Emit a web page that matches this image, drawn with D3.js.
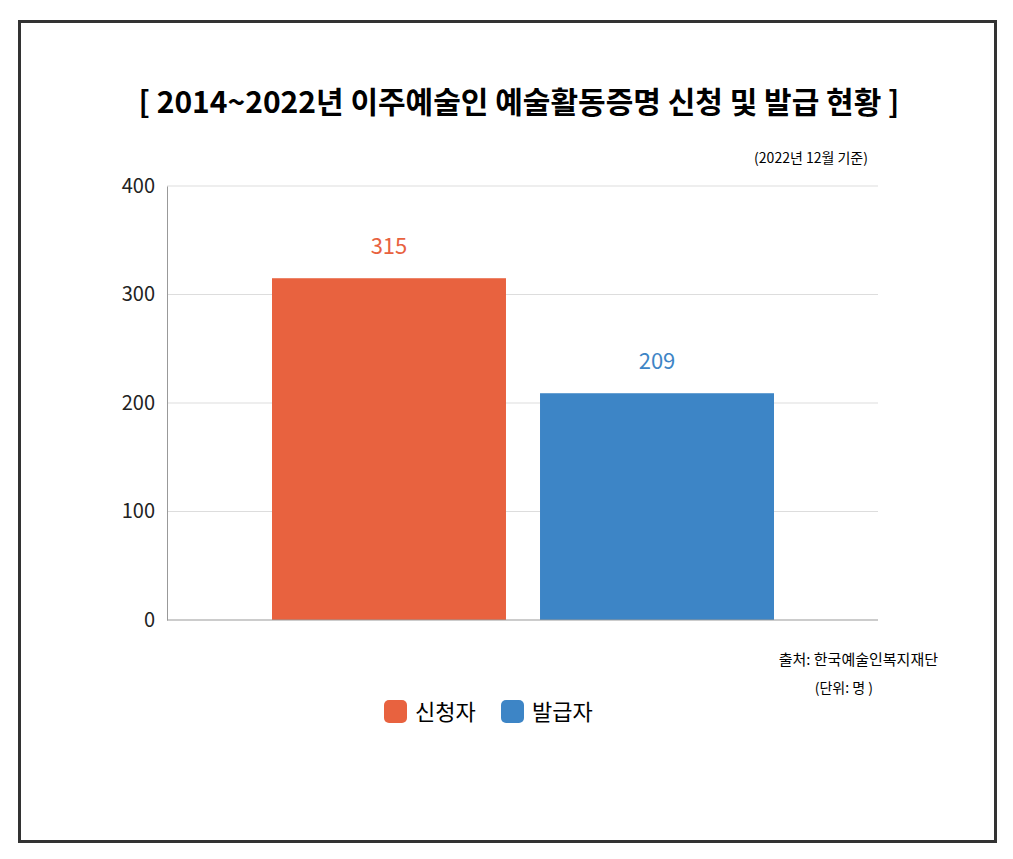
<!DOCTYPE html>
<html><head><meta charset="utf-8">
<script src="https://cdn.jsdelivr.net/npm/d3@7"></script>
<style>body{margin:0;background:#fff}text{font-family:"Noto Sans CJK KR","Noto Sans",sans-serif}</style>
</head><body><svg></svg>
<script>
let categories = ["신청자", "발급자"]
let values = [315, 209]
let colors = ["#E8623F", "#3D85C6"]
let yTicks = [0, 100, 200, 300, 400]

let svg = d3.select("svg").attr("width", 1013).attr("height", 859)

svg.append("rect").attr("x", 19.5).attr("y", 21.5).attr("width", 976).attr("height", 820)
    .attr("fill", "#fff").attr("stroke", "#333").attr("stroke-width", 3)

svg.append("text").attr("x", 519).attr("y", 113).attr("text-anchor", "middle")
    .attr("font-size", 30).attr("font-weight", "bold")
    .text("[  2014~2022년 이주예술인 예술활동증명 신청 및 발급 현황 ]")
svg.append("text").attr("x", 868).attr("y", 163).attr("text-anchor", "end")
    .attr("font-size", 14).text("(2022년 12월 기준)")

let y = d3.scaleLinear().domain([0, 400]).range([620, 186])
let x = d3.scaleBand().domain(categories).range([272, 774]).paddingInner(0.127)

// grid
svg.selectAll(".grid").data(yTicks.slice(1)).enter().append("line")
    .attr("x1", 167).attr("x2", 878).attr("y1", d => y(d)).attr("y2", d => y(d))
    .attr("stroke", "#ddd")

let axis = svg.append("g").attr("transform", "translate(167,0)")
    .call(d3.axisLeft(y).tickValues(yTicks).tickSize(0).tickPadding(12))
axis.select(".domain").attr("stroke", "#999")
axis.selectAll("text").attr("font-size", 20).attr("fill", "#222")
    .style("font-family", "'Noto Sans CJK KR', sans-serif")

svg.selectAll(".bar").data(values).enter().append("rect")
    .attr("x", (d, i) => x(categories[i])).attr("width", x.bandwidth())
    .attr("y", d => y(d)).attr("height", d => y(0) - y(d))
    .attr("fill", (d, i) => colors[i])

svg.selectAll(".val").data(values).enter().append("text")
    .attr("x", (d, i) => x(categories[i]) + x.bandwidth() / 2)
    .attr("y", d => y(d) - 24).attr("text-anchor", "middle")
    .attr("font-size", 22).attr("fill", (d, i) => colors[i]).text(d => d)

svg.append("line").attr("x1", 167).attr("x2", 878).attr("y1", 620).attr("y2", 620).attr("stroke", "#999")

svg.append("text").attr("x", 938).attr("y", 665).attr("text-anchor", "end")
    .attr("font-size", 15).text("출처: 한국예술인복지재단")
svg.append("text").attr("x", 873).attr("y", 693).attr("text-anchor", "end")
    .attr("font-size", 14).text("(단위:  명 )")

let legendX = [384, 501]
categories.forEach((c, i) => {
    svg.append("rect").attr("x", legendX[i]).attr("y", 700).attr("width", 23).attr("height", 23)
        .attr("rx", 5).attr("fill", colors[i])
    svg.append("text").attr("x", legendX[i] + 31).attr("y", 720)
        .attr("font-size", 22).text(c)
})
</script></body></html>
